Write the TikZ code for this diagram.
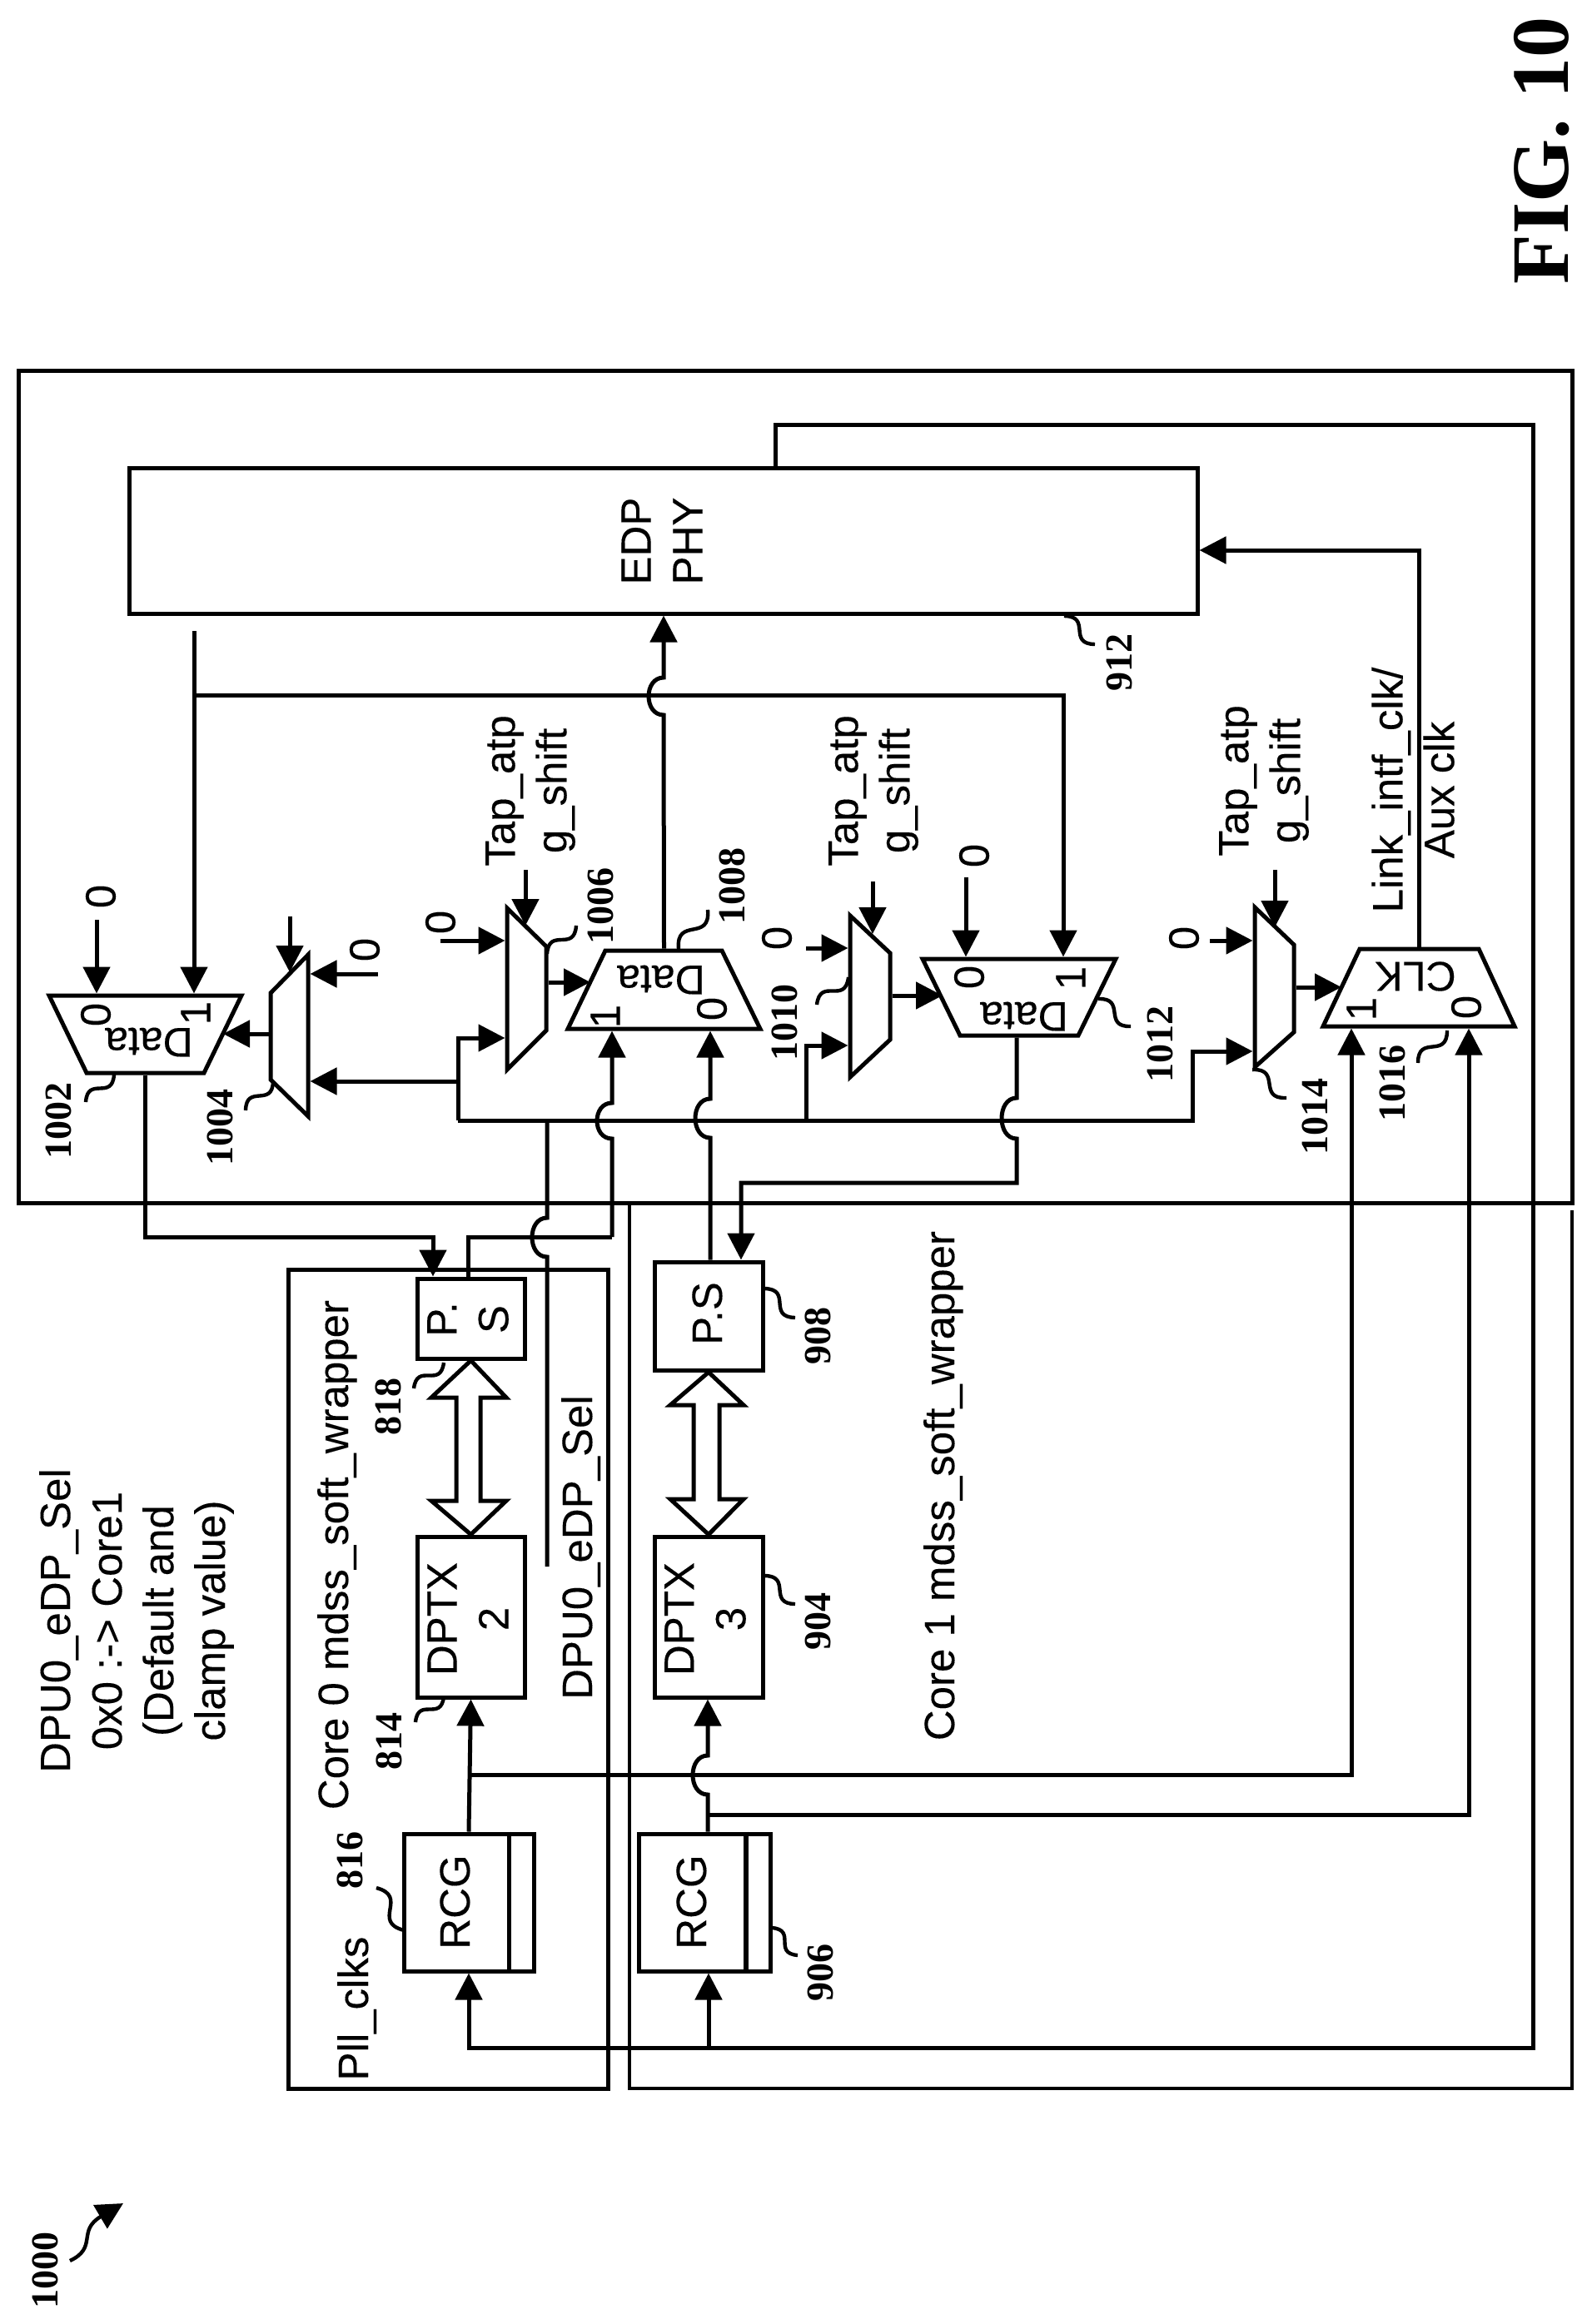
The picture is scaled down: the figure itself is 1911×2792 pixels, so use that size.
\documentclass[tikz,border=0pt]{standalone}
\usepackage{fontspec}
\setmainfont[FakeBold=0.2]{Liberation Sans}
\newfontfamily\numfont{Liberation Serif}
\usetikzlibrary{arrows.meta}
\tikzset{
  wire/.style={line width=2.5pt},
  frame/.style={line width=2.2pt},
  tri/.style={-{Triangle[length=16pt,width=16pt]}},
  box/.style={draw,line width=2.5pt,inner sep=0pt},
  muxbody/.style={inner sep=0pt,outer sep=1.25pt},
  lab/.style={font=\fontsize{25.5}{31}\selectfont,rotate=90,inner sep=0pt},
  multi/.style={lab,align=center},
  dat/.style={font=\fontsize{25}{30}\selectfont,rotate=180,inner sep=0pt},
  num/.style={font=\numfont\bfseries\fontsize{23}{23}\selectfont,rotate=90,inner sep=0pt},
  leader/.style={line width=2.2pt}
}
\newcommand\pxbox[5]{\node[box,minimum width={(#4-#2)*0.5pt},minimum height={(#5-#3)*0.5pt}] (#1) at ({(#2+#4)/2},{(#3+#5)/2}) {};}
\newcommand\muxT[7]{\node[muxbody,minimum width={(#3-#2)*0.5pt},minimum height={abs(#7-#6)*0.5pt}] (#1) at ({(#2+#3)/2},{(#6+#7)/2}) {};
  \draw[wire] (#2,#6) -- (#3,#6) -- (#5,#7) -- (#4,#7) -- cycle;}
\newcommand\muxV[7]{\node[muxbody,minimum width={abs(#3-#2)*0.5pt},minimum height={(#5-#4)*0.5pt}] (#1) at ({(#2+#3)/2},{(#4+#5)/2}) {};
  \draw[wire] (#2,#4) -- (#3,#6) -- (#3,#7) -- (#2,#5) -- cycle;}
\newcommand\hopat[3]{-- (#1,#2) .. controls ++(-24,0) and ({#1-24},#3) .. (#1,#3)}
\newcommand\lead[4]{\draw[leader] (#1,#2) .. controls ({#1+.5*(#3-#1)+.45*(#4-#2)},{#2+.5*(#4-#2)-.45*(#3-#1)}) and ({#1+.5*(#3-#1)-.45*(#4-#2)},{#2+.5*(#4-#2)+.45*(#3-#1)}) .. (#3,#4);}
\begin{document}
\begin{tikzpicture}[x=0.5pt,y=-0.5pt]
\useasboundingbox (0,0) rectangle (1911,2792);
% frames
\pxbox{upper}{22}{446}{1888}{1445}
\pxbox{core0}{346}{1525}{730}{2509}
\draw[frame] (upper.south -| 756,0) -- (756,2509) -- (1888,2509) -- (1888,1454);
% boxes
\pxbox{edp}{155}{563}{1438}{737}
\pxbox{rcg0}{485}{2203}{641}{2368}
\pxbox{rcg1}{767}{2203}{925}{2368}
\pxbox{dptx2}{501}{1846}{630}{2039}
\pxbox{dptx3}{786}{1846}{916}{2039}
\pxbox{ps0}{501}{1536}{630}{1632}
\pxbox{ps1}{786}{1516}{916}{1646}
\draw[wire] (rcg0.north -| 611,0) -- (rcg0.south -| 611,0);
\draw[line width=3.2pt] (rcg1.north -| 896,0) -- (rcg1.south -| 896,0);
% double arrows
\draw[wire] (ps0.south) -- (608,1679) -- (577,1679) -- (577,1803) -- (608,1803) -- (dptx2.north) -- (518,1803) -- (548,1803) -- (548,1679) -- (518,1679) -- cycle;
\draw[wire] (ps1.south) -- (893,1688) -- (864,1688) -- (864,1801) -- (893,1801) -- (dptx3.north) -- (805,1801) -- (833,1801) -- (833,1688) -- (805,1688) -- cycle;
% muxes
\muxT{m1002}{59}{290}{104}{245}{1196}{1289}
\muxV{m1004}{370}{325}{1147}{1341}{1193}{1297}
\muxV{m1006}{609}{656}{1091}{1285}{1137}{1238}
\muxT{m1008}{682}{913}{727}{867}{1236}{1142}
\muxV{m1010}{1021}{1069}{1100}{1294}{1145}{1249}
\muxT{m1012}{1108}{1340}{1153}{1295}{1152}{1244}
\muxV{m1014}{1507}{1554}{1090}{1282}{1135}{1240}
\muxT{m1016}{1589}{1819}{1633}{1776}{1233}{1140}
% named free ends
\coordinate (sideA) at (268,1242);
\coordinate (sideB) at (709,1180);
\coordinate (sideC) at (1132,1196);
\coordinate (sideD) at (1611,1186);
\coordinate (edpOut) at (233,758);
\coordinate (selEnd) at (657,1882);
% connectors
\draw[wire,tri] (edp.north -| 931,0) -- (931,511) -- (1841,511) -- (1841,2460) -- (563,2460) -- (rcg0.south);
\draw[wire,tri] (851,2460) -- (rcg1.south -| 851,0);
\draw[wire,tri] (rcg0.north) -- (dptx2.south);
\draw[wire,tri] (564,2132) -- (1623,2132) -- (m1016.south -| 1623,0);
\draw[wire,tri] (rcg1.north -| 850,0) \hopat{850}{2156}{2109} -- (dptx3.south -| 850,0);
\draw[wire,tri] (850,2180) -- (1764,2180) -- (m1016.south -| 1764,0);
\draw[wire,tri] (m1016.north) -- (1704,661) -- (edp.east |- 0,661);
\draw[wire,tri] (edpOut) -- (m1002.north -| 233,0);
\draw[wire,tri] (233,835) -- (1277,835) -- (m1012.north -| 1277,0);
\draw[wire,tri] (m1008.north) \hopat{797}{859}{814} -- (edp.south -| 797,0);
\draw[wire,tri] (m1002.south -| 174,0) -- (174,1486) -- (520,1486) -- (ps0.north -| 520,0);
\draw[wire,tri] (m1004.west |- sideA) -- (sideA);
\draw[wire,tri] (550,1299) -- (m1004.east |- 0,1299);
\draw[wire,tri] (550,1346) -- (550,1247) -- (m1006.west |- 0,1247);
\draw[wire,tri] (550,1346) -- (1432,1346) -- (1432,1263) -- (m1014.west |- 0,1263);
\draw[wire,tri] (968,1346) -- (968,1256) -- (m1010.west |- 0,1256);
\draw[wire] (selEnd) \hopat{657}{1510}{1463} -- (657,1346);
\draw[wire,tri] (m1006.east |- sideB) -- (sideB);
\draw[wire,tri] (m1010.east |- sideC) -- (sideC);
\draw[wire,tri] (m1014.east |- sideD) -- (sideD);
\draw[wire] (ps0.north -| 562,0) -- (562,1486) -- (735,1486);
\draw[wire,tri] (735,1486) \hopat{735}{1368}{1325} -- (m1008.south -| 735,0);
\draw[wire,tri] (ps1.north -| 853,0) \hopat{853}{1367}{1320} -- (m1008.south -| 853,0);
\draw[wire,tri] (m1012.south -| 1221,0) \hopat{1221}{1319}{1368} -- (1221,1421) -- (890,1421) -- (ps1.north -| 890,0);
% stub inputs
\draw[wire,tri] (116,1105) -- (m1002.north -| 116,0);
\draw[wire,tri] (348,1101) -- (348,1168);
\draw[wire,tri] (454,1170) -- (m1004.east |- 0,1170);
\draw[wire,tri] (529,1130) -- (m1006.west |- 0,1130);
\draw[wire,tri] (631,1045) -- (631,1112);
\draw[wire,tri] (968,1139) -- (m1010.west |- 0,1139);
\draw[wire,tri] (1048,1059) -- (1048,1122);
\draw[wire,tri] (1160,1054) -- (m1012.north -| 1160,0);
\draw[wire,tri] (1453,1130) -- (m1014.west |- 0,1130);
\draw[wire,tri] (1531,1045) -- (1531,1114);
% box texts
\node[multi,align=left] (tEdp) at (795,650) {EDP\\PHY};
\node[multi] (tDptx2) at (562,1945) {DPTX\\2};
\node[multi] (tDptx3) at (847,1945) {DPTX\\3};
\node[multi] (tPs0) at (562,1585) {P.\\S};
\node[lab,anchor=base] (tPs1) at (867,1578) {P.S};
\node[lab,anchor=base] (tRcg0) at (564,2285) {RCG};
\node[lab,anchor=base] (tRcg1) at (848,2285) {RCG};
% free text
\node[multi] (tSel) at (164,1947) {DPU0\_eDP\_Sel\\0x0 :-> Core1\\(Default and\\clamp value)};
\node[lab,anchor=base] (tCore0) at (418,1868) {Core 0 mdss\_soft\_wrapper};
\node[lab,anchor=base] (tCore1) at (1146,1785) {Core 1 mdss\_soft\_wrapper};
\node[lab,anchor=base] (tPll) at (442,2413) {Pll\_clks};
\node[lab,anchor=base] (tDpu) at (711,1859) {DPU0\_eDP\_Sel};
\node[multi] (tTapA) at (637,950) {Tap\_atp\\g\_shift};
\node[multi] (tTapB) at (1049,950) {Tap\_atp\\g\_shift};
\node[multi] (tTapC) at (1518,938) {Tap\_atp\\g\_shift};
\node[multi] (tLink) at (1697,949) {Link\_intf\_clk/\\Aux clk};
% mux texts
\node[dat] (dA) at (179,1252) {Data};
\node[dat] (dB) at (794,1177) {Data};
\node[dat] (dC) at (1230,1221) {Data};
\node[dat] (dD) at (1700,1173) {CLK};
\node[lab] (z1) at (115,1219) {0};
\node[lab] (z2) at (235,1217) {1};
\node[lab] (z3) at (121,1077) {0};
\node[lab] (z4) at (438,1141) {0};
\node[lab] (z5) at (529,1108) {0};
\node[lab] (z6) at (727,1221) {1};
\node[lab] (z7) at (855,1212) {0};
\node[lab] (z8) at (933,1127) {0};
\node[lab] (z9) at (1164,1174) {0};
\node[lab] (z10) at (1286,1175) {1};
\node[lab] (z11) at (1170,1028) {0};
\node[lab] (z12) at (1422,1127) {0};
\node[lab] (z13) at (1635,1212) {1};
\node[lab] (z14) at (1761,1210) {0};
% reference numbers
\node[num] (n1000) at (54,2727) {1000};
\node[num] (n1002) at (70,1346) {1002};
\node[num] (n1004) at (264,1354) {1004};
\node[num] (n1006) at (721,1088) {1006};
\node[num] (n1008) at (879,1064) {1008};
\node[num] (n1010) at (942,1228) {1010};
\node[num] (n1012) at (1393,1254) {1012};
\node[num] (n1014) at (1579,1341) {1014};
\node[num] (n1016) at (1672,1301) {1016};
\node[num] (n912) at (1344,796) {912};
\node[num] (n818) at (466,1690) {818};
\node[num] (n814) at (467,2092) {814};
\node[num] (n816) at (420,2235) {816};
\node[num] (n908) at (982,1605) {908};
\node[num] (n904) at (982,1948) {904};
\node[num] (n906) at (985,2370) {906};
\node[font=\numfont\bfseries\fontsize{49}{49}\selectfont,rotate=90,inner sep=0pt,anchor=base] (fig) at (1883,181) {FIG. 10};
% leaders
\lead{103}{1324}{137}{1291}
\lead{295}{1334}{328}{1299}
\lead{657}{1146}{692}{1112}
\lead{815}{1140}{850}{1093}
\lead{981}{1207}{1019}{1174}
\lead{1319}{1200}{1358}{1233}
\lead{1504}{1285}{1545}{1319}
\lead{1703}{1277}{1738}{1238}
\lead{1278}{740}{1315}{774}
\lead{497}{1668}{533}{1637}
\lead{499}{2069}{533}{2038}
\lead{452}{2268}{485}{2319}
\lead{918}{1548}{955}{1583}
\lead{918}{1893}{955}{1927}
\lead{927}{2316}{958}{2349}
\draw[leader,-{Triangle[length=16pt,width=16pt]}] (84,2716) .. controls (118,2700) and (92,2680) .. (148,2647);
\end{tikzpicture}
\end{document}
